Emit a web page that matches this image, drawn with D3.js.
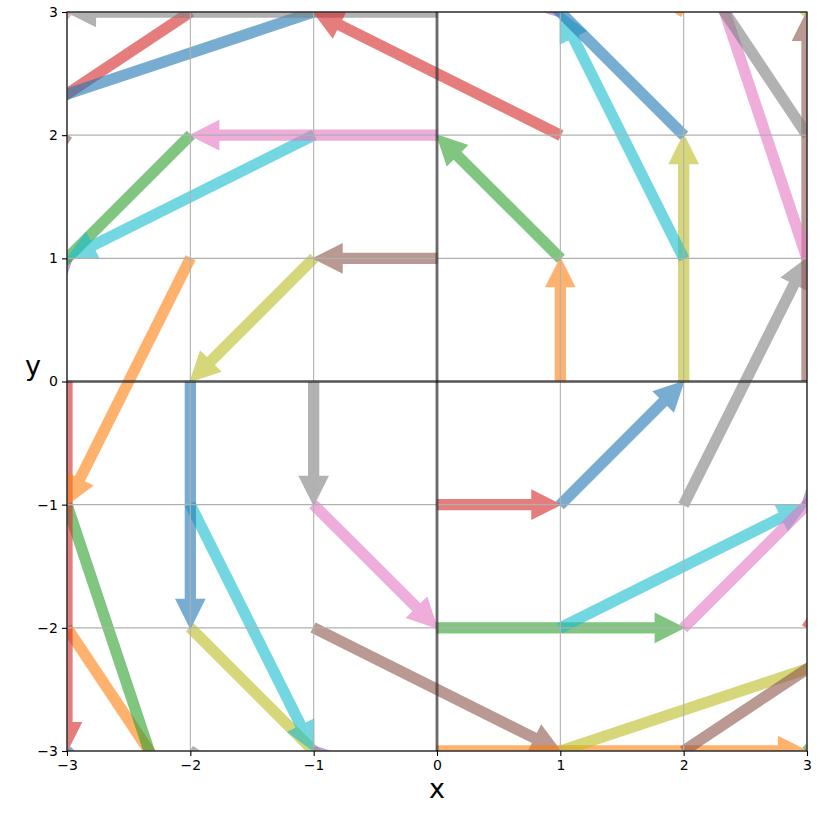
<!DOCTYPE html>
<html>
<head>
<meta charset="utf-8">
<script src="https://cdn.jsdelivr.net/npm/d3@7"></script>
<style>
  body { margin: 0; background: #fff; }
  svg { display: block; }
  text { font-family: "DejaVu Sans", sans-serif; }
</style>
</head>
<body>
<svg id="chart" width="827" height="813"></svg>
<script>
// Arrow start points and displacement vectors (drawn in this order)
const startX = [-3,-3,-3,-3,-3,-3,-3, -2,-2,-2,-2,-2,-2,-2, -1,-1,-1,-1,-1,-1,-1,
                0,0,0,0,0,0,0, 1,1,1,1,1,1,1, 2,2,2,2,2,2,2, 3,3,3,3,3,3,3];
const startY = [-3,-2,-1,0,1,2,3, -3,-2,-1,0,1,2,3, -3,-2,-1,0,1,2,3,
                -3,-2,-1,0,1,2,3, -3,-2,-1,0,1,2,3, -3,-2,-1,0,1,2,3, -3,-2,-1,0,1,2,3];
const deltaX = [3,2,1,0,-1,-2,-3, 3,2,1,0,-1,-2,-3, 3,2,1,0,-1,-2,-3,
                3,2,1,0,-1,-2,-3, 3,2,1,0,-1,-2,-3, 3,2,1,0,-1,-2,-3, 3,2,1,0,-1,-2,-3];
const deltaY = [-3,-3,-3,-3,-3,-3,-3, -2,-2,-2,-2,-2,-2,-2, -1,-1,-1,-1,-1,-1,-1,
                0,0,0,0,0,0,0, 1,1,1,1,1,1,1, 2,2,2,2,2,2,2, 3,3,3,3,3,3,3];
const tickValues = [-3,-2,-1,0,1,2,3];
const palette = ["#1f77b4","#ff7f0e","#2ca02c","#d62728","#9467bd","#8c564b","#e377c2","#7f7f7f","#bcbd22","#17becf"];

const svg = d3.select("#chart");
const L = 67, R = 807, T = 12, B = 751;
const x = d3.scaleLinear().domain([-3, 3]).range([L, R]);
const y = d3.scaleLinear().domain([-3, 3]).range([B, T]);

svg.append("defs").append("clipPath").attr("id", "clip")
  .append("rect").attr("x", L).attr("y", T).attr("width", R - L).attr("height", B - T);

const plot = svg.append("g").attr("clip-path", "url(#clip)");

// arrows (patches, below grid)
const shaftW = 0.08, headW = 0.23, headL = 0.23;
startX.forEach((sx, i) => {
  const dx = deltaX[i], dy = deltaY[i];
  const len = Math.hypot(dx, dy);
  if (len === 0) return;
  const ux = dx / len, uy = dy / len;   // unit direction
  const px = -uy, py = ux;               // perpendicular
  const sy = startY[i];
  const ex = sx + dx, ey = sy + dy;
  const bx = ex - ux * headL, by = ey - uy * headL;
  const pts = [
    [sx + px * shaftW / 2, sy + py * shaftW / 2],
    [bx + px * shaftW / 2, by + py * shaftW / 2],
    [bx + px * headW / 2, by + py * headW / 2],
    [ex, ey],
    [bx - px * headW / 2, by - py * headW / 2],
    [bx - px * shaftW / 2, by - py * shaftW / 2],
    [sx - px * shaftW / 2, sy - py * shaftW / 2]
  ];
  const c = palette[i % 10];
  plot.append("path")
    .attr("d", "M" + pts.map(p => x(p[0]) + "," + y(p[1])).join("L") + "Z")
    .attr("fill", c).attr("stroke", c).attr("stroke-width", 1.4)
    .attr("stroke-linejoin", "miter").attr("opacity", 0.6);
});

// grid
const grid = svg.append("g");
tickValues.forEach(t => {
  grid.append("line").attr("x1", x(t)).attr("x2", x(t)).attr("y1", T).attr("y2", B)
    .attr("stroke", "#b0b0b0").attr("stroke-width", 1.1);
  grid.append("line").attr("y1", y(t)).attr("y2", y(t)).attr("x1", L).attr("x2", R)
    .attr("stroke", "#b0b0b0").attr("stroke-width", 1.1);
});

// zero lines
svg.append("line").attr("x1", L).attr("x2", R).attr("y1", y(0)).attr("y2", y(0))
  .attr("stroke", "#000").attr("stroke-opacity", 0.5).attr("stroke-width", 3);
svg.append("line").attr("y1", T).attr("y2", B).attr("x1", x(0)).attr("x2", x(0))
  .attr("stroke", "#000").attr("stroke-opacity", 0.5).attr("stroke-width", 3);

// axes
const fmt = d => d < 0 ? "\u2212" + Math.abs(d) : String(d);
const xAxis = svg.append("g").attr("transform", `translate(0,${B})`)
  .call(d3.axisBottom(x).tickValues(tickValues).tickFormat(fmt).tickSize(5).tickPadding(4));
const yAxis = svg.append("g").attr("transform", `translate(${L},0)`)
  .call(d3.axisLeft(y).tickValues(tickValues).tickFormat(fmt).tickSize(5).tickPadding(4));
[xAxis, yAxis].forEach(g => {
  g.select(".domain").remove();
  g.selectAll("text").attr("font-size", 14).attr("font-family", "DejaVu Sans").attr("fill", "#000");
  g.selectAll("line").attr("stroke", "#000").attr("stroke-width", 1.1);
});

// frame
svg.append("rect").attr("x", L).attr("y", T).attr("width", R - L).attr("height", B - T)
  .attr("fill", "none").attr("stroke", "#000").attr("stroke-width", 1.1);

// axis labels
svg.append("text").attr("x", (L + R) / 2).attr("y", 798).attr("text-anchor", "middle")
  .attr("font-size", 27).text("x");
svg.append("text").attr("x", 33).attr("y", 375).attr("text-anchor", "middle")
  .attr("font-size", 27).text("y");
</script>
</body>
</html>
